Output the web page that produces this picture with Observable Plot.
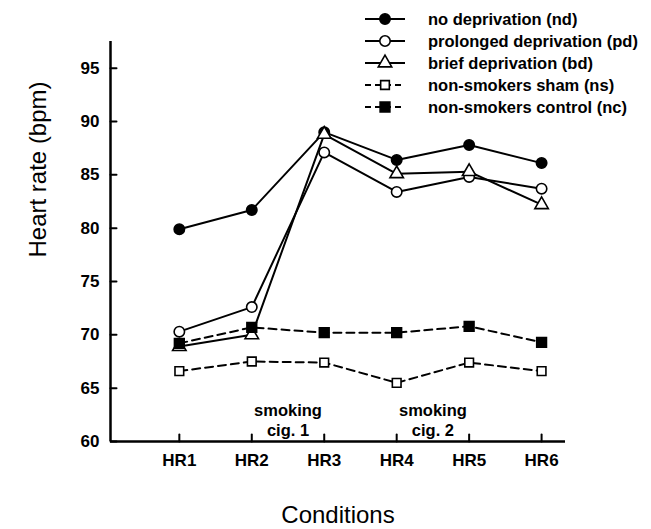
<!DOCTYPE html>
<html><head><meta charset="utf-8">
<script src="https://cdn.jsdelivr.net/npm/d3@7"></script>
<script src="https://cdn.jsdelivr.net/npm/@observablehq/plot@0.6"></script>
<style>
body{margin:0;background:#fff;font-family:"Liberation Sans",Arial,Helvetica,sans-serif;}
#wrap{position:relative;width:651px;height:529px;}
#legend{position:absolute;left:362px;top:8px;}
.row{display:flex;align-items:center;height:22px;font-weight:bold;font-size:16.5px;color:#000;}
.row svg{display:block;}
.row span{margin-left:20px;white-space:nowrap;}
</style></head><body><div id="wrap"><div id="chart"></div><div id="legend"></div></div>
<script>
// ---- data ----
const conditions = ["HR1", "HR2", "HR3", "HR4", "HR5", "HR6"];
const nd = [79.9, 81.7, 89.0, 86.4, 87.8, 86.1];
const pd = [70.3, 72.6, 87.1, 83.4, 84.8, 83.7];
const bd = [68.9, 70.0, 88.8, 85.1, 85.3, 82.2];
const ns = [66.6, 67.5, 67.4, 65.5, 67.4, 66.6];
const nc = [69.2, 70.7, 70.2, 70.2, 70.8, 69.3];
const seriesLabels = ["no deprivation (nd)", "prolonged deprivation (pd)", "brief deprivation (bd)", "non-smokers sham (ns)", "non-smokers control (nc)"];
const yTicks = [60, 65, 70, 75, 80, 85, 90, 95];
const annotations = [{text: "smoking\ncig. 1", after: "HR2"}, {text: "smoking\ncig. 2", after: "HR4"}];

// ---- styles ----
const series = [
  {key: "nd", values: nd, symbol: "circle", fill: "black", r: 5.2, dash: null},
  {key: "pd", values: pd, symbol: "circle", fill: "white", r: 5.2, dash: null},
  {key: "bd", values: bd, symbol: "triangle", fill: "white", r: 5, dash: null},
  {key: "ns", values: ns, symbol: "square", fill: "white", r: 4.9, dash: "8,5"},
  {key: "nc", values: nc, symbol: "square", fill: "black", r: 5.5, dash: "8,5"}
].map((s, i) => ({...s, label: seriesLabels[i]}));

const rows = series.flatMap(s => s.values.map((v, i) => ({key: s.key, idx: i + 1, value: v})));
const xTicks = conditions.map((c, i) => i + 1);
const xDomain = [0.05, 6.33];
const yDomain = [60, 97.5];

const tickShape = {draw(context, l) { context.moveTo(0, 0); context.lineTo(0, -l); }};

const marks = [];
for (const s of series) {
  const d = rows.filter(r => r.key === s.key);
  marks.push(Plot.line(d, {x: "idx", y: "value", stroke: "black", strokeWidth: 2, strokeDasharray: s.dash}));
}
for (const s of series) {
  const d = rows.filter(r => r.key === s.key);
  marks.push(Plot.dot(d, {x: "idx", y: "value", symbol: () => s.symbol, r: s.r, fill: s.fill, stroke: "black", strokeWidth: 1.6}));
}

const chart = Plot.plot({
  width: 651, height: 529,
  marginLeft: 110, marginRight: 86, marginTop: 41, marginBottom: 88,
  style: {fontFamily: '"Liberation Sans", Arial, Helvetica, sans-serif', color: "black", background: "white"},
  symbol: {type: "identity"},
  x: {domain: xDomain, axis: null},
  y: {domain: yDomain, axis: null},
  marks: [
    Plot.axisY({ticks: yTicks, tickSize: 0, tickPadding: 11, fontSize: 17, fontWeight: "bold", label: null, tickFormat: d => d}),
    Plot.axisX({ticks: xTicks, tickFormat: i => conditions[i - 1], tickSize: 0, tickPadding: 12, fontSize: 17, fontWeight: "bold", label: null}),
    Plot.vector(yTicks, {y: d => d, frameAnchor: "left", length: 6, rotate: 90, anchor: "start", shape: tickShape, stroke: "black", strokeWidth: 2}),
    Plot.vector(xTicks, {x: d => d, frameAnchor: "bottom", length: 7, rotate: 0, anchor: "start", shape: tickShape, stroke: "black", strokeWidth: 2}),
    Plot.ruleX([xDomain[0]], {stroke: "black", strokeWidth: 2.5}),
    Plot.ruleY([yDomain[0]], {stroke: "black", strokeWidth: 2.5}),
    Plot.text(annotations, {x: d => conditions.indexOf(d.after) + 1.5, frameAnchor: "bottom", text: "text", lineAnchor: "bottom", lineHeight: 1.2, dy: -6, fontSize: 16.5, fontWeight: "bold"}),
    Plot.text(["Heart rate (bpm)"], {frameAnchor: "left", rotate: -90, dx: -72, dy: 16, fontSize: 24, text: d => d}),
    Plot.text(["Conditions"], {frameAnchor: "bottom", dy: 81, fontSize: 24, text: d => d}),
    ...marks
  ]
});
document.getElementById("chart").appendChild(chart);

// ---- legend ----
const legend = d3.select("#legend");
const symMap = {circle: d3.symbolCircle, triangle: d3.symbolTriangle, square: d3.symbolSquare};
for (const s of series) {
  const row = legend.append("div").attr("class", "row");
  const svg = row.append("svg").attr("width", 46).attr("height", 22);
  svg.append("line").attr("x1", 3).attr("x2", 43).attr("y1", 11).attr("y2", 11)
    .attr("stroke", "black").attr("stroke-width", 2).attr("stroke-dasharray", s.dash ? "6,4" : null);
  svg.append("path").attr("transform", "translate(23,11)")
    .attr("d", d3.symbol(symMap[s.symbol], s.r * s.r * Math.PI)())
    .attr("fill", s.fill).attr("stroke", "black").attr("stroke-width", 1.6);
  row.append("span").text(s.label);
}
</script></body></html>
